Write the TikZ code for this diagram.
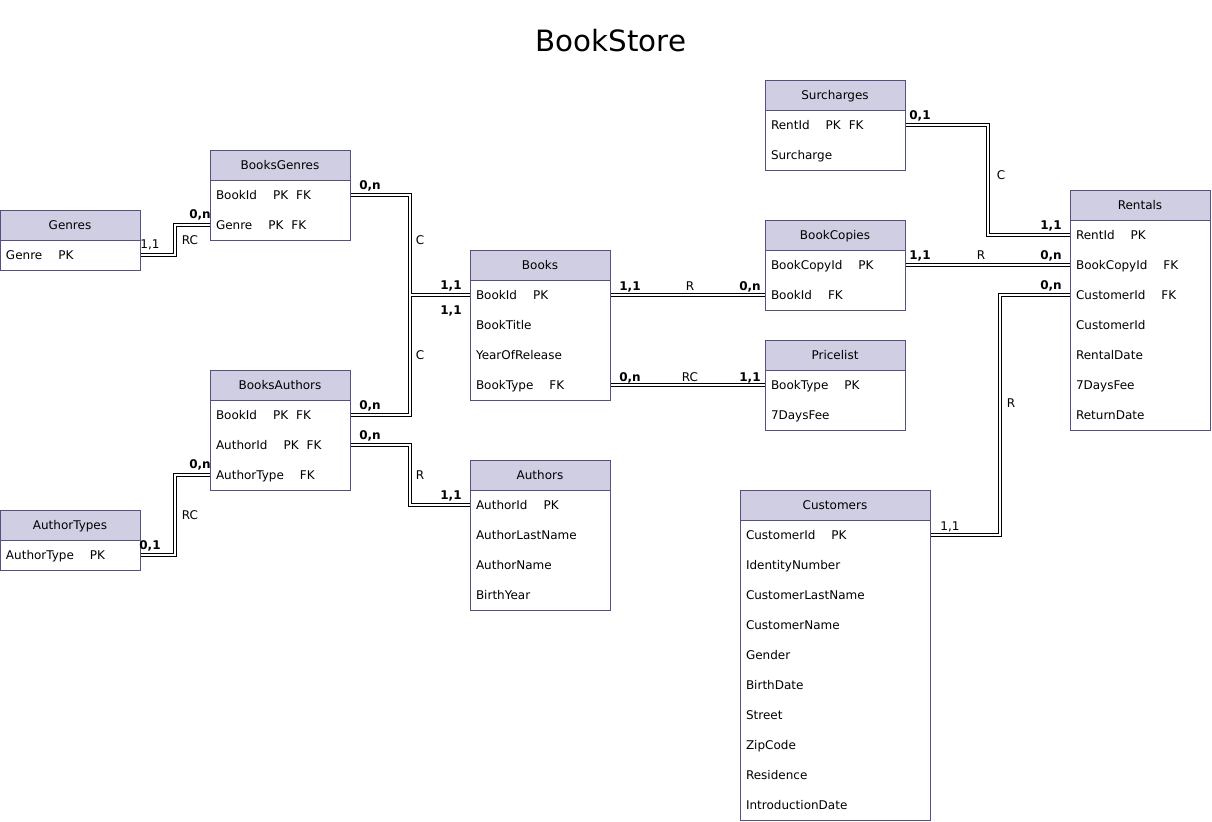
\documentclass[tikz,border=0pt]{standalone}
\usepackage{fontspec}
\setmainfont{DejaVu Sans}
\definecolor{hdrfill}{RGB}{208,206,226}
\definecolor{tblline}{RGB}{86,80,130}
\pgfdeclarelayer{bg}
\pgfsetlayers{bg,main}
\tikzset{
  hdr/.style={draw=tblline, fill=hdrfill, line width=0.75pt, inner sep=0pt,
    minimum height=22.5pt, text height=6.5pt, text depth=0pt,
    font=\fontsize{9}{11}\selectfont},
  tbody/.style={draw=tblline, fill=white, line width=0.75pt},
  fld/.style={inner sep=0pt, minimum height=22.5pt},
  fldtxt/.style={inner sep=0pt, anchor=west, text height=6.5pt, text depth=0pt,
    font=\fontsize{9}{11}\selectfont},
  rel/.style={draw=black, line width=0.75pt, double=white, double distance=1.8pt},
  card/.style={inner sep=0pt, text height=6.5pt, text depth=0pt,
    font=\fontsize{9}{11}\selectfont\bfseries},
  cardn/.style={inner sep=0pt, text height=6.5pt, text depth=0pt,
    font=\fontsize{9}{11}\selectfont},
  reltype/.style={inner sep=0pt, text height=6.5pt, text depth=0pt,
    font=\fontsize{9}{11}\selectfont},
}
\newcommand\gapA{\hspace{12pt}}
\newcommand\gapB{\hspace{6pt}}
% #1 name, #2 left x, #3 top y, #4 width, #5 title, #6 number of rows, #7 rows
\newcommand\ertable[7]{%
  \draw[tbody] (#2,#3+30) rectangle (#2+#4,#3+30+30*#6);
  \node[hdr, minimum width=#4*0.75pt] (#1) at ({#2+#4/2},{#3+15}) {#5};
  \foreach \t [count=\i] in {#7} {
    \node[fld, minimum width=#4*0.75pt] (#1-\i) at ({#2+#4/2},{#3+15+30*\i}) {};
    \node[fldtxt] (#1-\i-t) at ([xshift=4.5pt]#1-\i.west) {\t};
  }%
}
\begin{document}
\begin{tikzpicture}[x=0.75pt,y=-0.75pt]
\useasboundingbox (0,0) rectangle (1212,821);

\node[inner sep=0pt, text height=16pt, text depth=0pt, font=\fontsize{22}{26}\selectfont] (title) at (611,40.5) {BookStore};

% tables
\ertable{Genres}{0}{210}{140}{Genres}{1}{Genre\gapA PK}
\ertable{BooksGenres}{210}{150}{140}{BooksGenres}{2}{BookId\gapA PK\gapB FK, Genre\gapA PK\gapB FK}
\ertable{Books}{470}{250}{140}{Books}{4}{BookId\gapA PK, BookTitle, YearOfRelease, BookType\gapA FK}
\ertable{BooksAuthors}{210}{370}{140}{BooksAuthors}{3}{BookId\gapA PK\gapB FK, AuthorId\gapA PK\gapB FK, AuthorType\gapA FK}
\ertable{AuthorTypes}{0}{510}{140}{AuthorTypes}{1}{AuthorType\gapA PK}
\ertable{Authors}{470}{460}{140}{Authors}{4}{AuthorId\gapA PK, AuthorLastName, AuthorName, BirthYear}
\ertable{Surcharges}{765}{80}{140}{Surcharges}{2}{RentId\gapA PK\gapB FK, Surcharge}
\ertable{BookCopies}{765}{220}{140}{BookCopies}{2}{BookCopyId\gapA PK, BookId\gapA FK}
\ertable{Pricelist}{765}{340}{140}{Pricelist}{2}{BookType\gapA PK, 7DaysFee}
\ertable{Rentals}{1070}{190}{140}{Rentals}{7}{RentId\gapA PK, BookCopyId\gapA FK, CustomerId\gapA FK, CustomerId, RentalDate, 7DaysFee, ReturnDate}
\ertable{Customers}{740}{490}{190}{Customers}{10}{CustomerId\gapA PK, IdentityNumber, CustomerLastName, CustomerName, Gender, BirthDate, Street, ZipCode, Residence, IntroductionDate}

% connectors (on the background layer, tables cover the ends)
\begin{pgfonlayer}{bg}
\draw[rel] (Genres-1.east) -- ++(35,0) |- (BooksGenres-2.west);
\draw[rel] (BooksGenres-1.east) -- ++(60,0) |- (Books-1.west)
           (BooksAuthors-1.east) -- ++(60,0) |- (Books-1.west);
\draw[rel] (BooksAuthors-2.east) -- ++(60,0) |- (Authors-1.west);
\draw[rel] (AuthorTypes-1.east) -- ++(35,0) |- (BooksAuthors-3.west);
\draw[rel] (Books-1.east) -- (BookCopies-2.west);
\draw[rel] (Books-4.east) -- (Pricelist-1.west);
\draw[rel] (Surcharges-1.east) -- ++(83,0) |- (Rentals-1.west);
\draw[rel] (BookCopies-1.east) -- (Rentals-2.west);
\draw[rel] (Customers-1.east) -- ++(70,0) |- (Rentals-3.west);
\end{pgfonlayer}

% connector labels
\node[cardn] (l1a) at (150,244) {1,1};
\node[reltype] (l1b) at (190,240) {RC};
\node[card] (l1c) at (200,214) {0,n};

\node[card] (l2a) at (370,185) {0,n};
\node[reltype] (l2b) at (420,240) {C};
\node[card] (l2c) at (451,285) {1,1};

\node[card] (l3a) at (370,405) {0,n};
\node[reltype] (l3b) at (420,355) {C};
\node[card] (l3c) at (451,310) {1,1};

\node[card] (l4a) at (370,435) {0,n};
\node[reltype] (l4b) at (420,475) {R};
\node[card] (l4c) at (451,495) {1,1};

\node[card] (l5a) at (150,545) {0,1};
\node[reltype] (l5b) at (190,515) {RC};
\node[card] (l5c) at (200,464) {0,n};

\node[card] (l6a) at (630,286) {1,1};
\node[reltype] (l6b) at (690,286) {R};
\node[card] (l6c) at (750,286) {0,n};

\node[card] (l7a) at (630,377) {0,n};
\node[reltype] (l7b) at (690,377) {RC};
\node[card] (l7c) at (750,377) {1,1};

\node[card] (l8a) at (920,115) {0,1};
\node[reltype] (l8b) at (1001,175) {C};
\node[card] (l8c) at (1051,225) {1,1};

\node[card] (l9a) at (920,255) {1,1};
\node[reltype] (l9b) at (981,255) {R};
\node[card] (l9c) at (1051,255) {0,n};

\node[cardn] (l10a) at (950,526) {1,1};
\node[reltype] (l10b) at (1011,403) {R};
\node[card] (l10c) at (1051,285) {0,n};
\end{tikzpicture}
\end{document}
